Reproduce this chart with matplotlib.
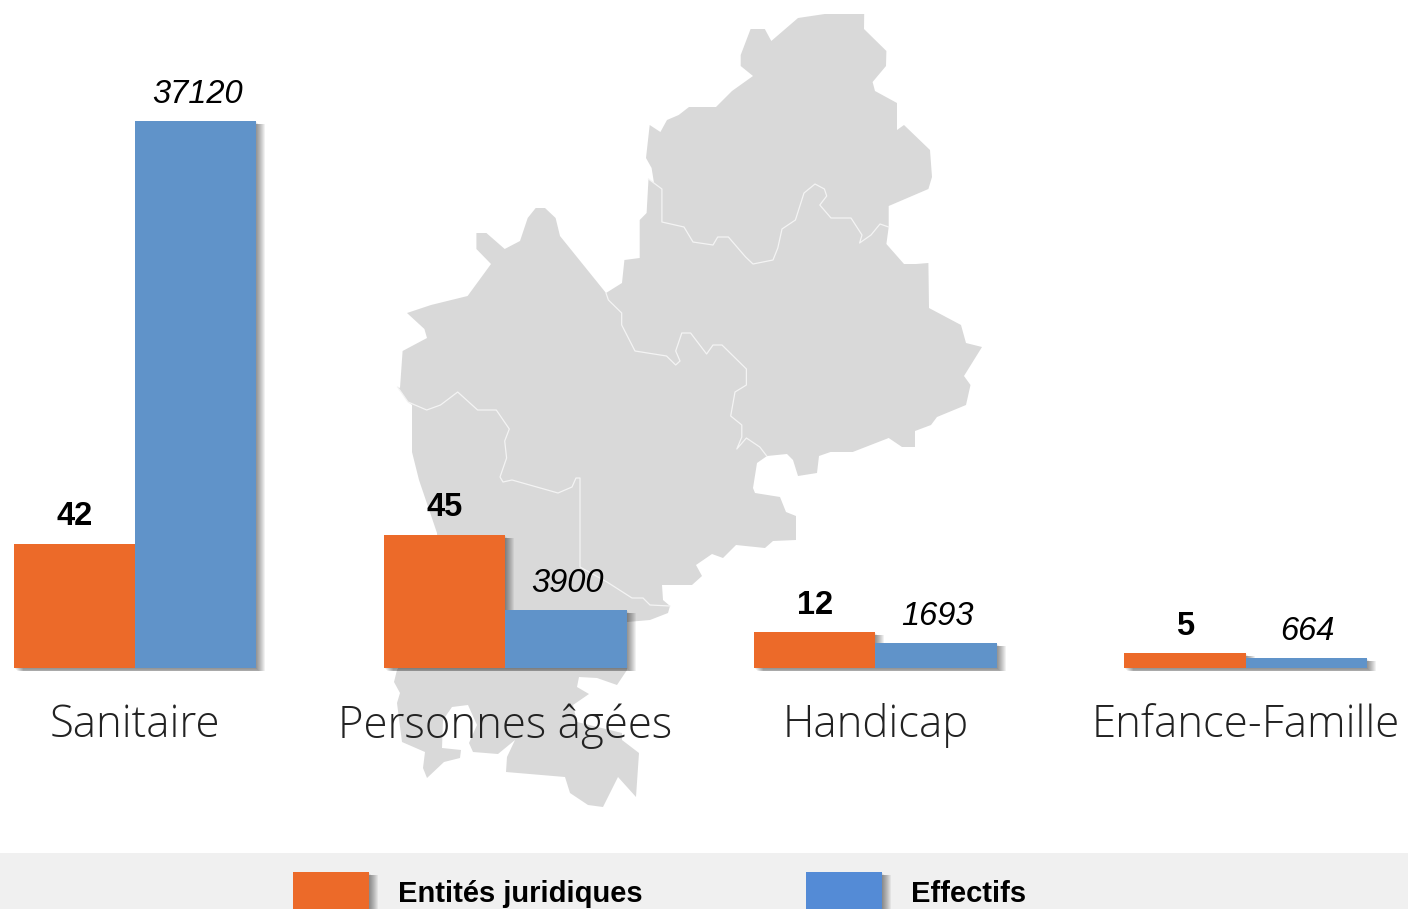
import matplotlib
matplotlib.use("Agg")
import matplotlib.pyplot as plt
import matplotlib.patheffects as pe
from matplotlib.patches import Polygon, Rectangle

# valeurs du graphique
categories = ["Sanitaire", "Personnes âgées", "Handicap", "Enfance-Famille"]
entites = [42, 45, 12, 5]
effectifs = [37120, 3900, 1693, 664]
series_names = ["Entités juridiques", "Effectifs"]

# fond de carte, en pixels de l'image
map_outline = [
    (750.6, 29), (764.8, 29), (771.3, 41), (798, 18), (824.8, 14), (864.2, 14), (864, 29), (886.4, 51),
    (886, 66), (872.6, 82), (875, 91), (897, 103), (897, 130), (904, 125), (930, 150), (932, 177),
    (928.4, 189), (888.7, 206), (888.7, 227), (886.4, 244), (904, 264), (916, 264), (928.4, 263), (929, 308),
    (961, 325), (966, 343), (982, 347), (964, 376), (970.5, 385), (966, 405), (937, 417), (931, 425),
    (915, 431), (915, 447), (902, 447), (888.7, 438), (852.7, 452), (830.5, 452), (819, 456), (817, 473),
    (798, 476), (793, 460), (787, 454), (767, 456), (757, 463), (753, 488), (755, 493), (780, 497),
    (786, 512), (796, 516), (796, 540), (773, 541), (765, 548), (736, 545), (723, 558), (712, 554),
    (696, 565), (702, 576), (692, 585), (662, 585), (663, 600), (670, 606), (668, 613), (650, 620),
    (627, 622), (627, 670), (617, 685), (597, 678), (579, 677), (577, 687), (589, 694), (573, 705),
    (577, 722), (622, 733), (622, 740), (639, 753), (636, 797), (618, 777), (603, 807), (588, 805),
    (570, 793), (565, 777), (506, 772), (507, 757), (515, 740), (498, 754), (473, 752), (469, 743),
    (477, 725), (468, 705), (452, 707), (443, 720), (442, 748), (461, 750), (460, 758), (444, 762),
    (427, 778), (423, 768), (425, 752), (402, 742), (397, 703), (400, 693), (394, 682), (397, 670),
    (440, 600), (437, 533), (419, 480), (412, 452), (412, 405), (408, 402), (397.6, 387), (400, 388),
    (402.6, 351), (427, 338), (424.4, 329), (407, 313), (431, 305), (467.6, 296), (491, 264), (476.4, 249),
    (476.4, 233), (486.4, 233), (504.7, 249), (520, 241), (527.7, 218), (535.7, 208), (545, 208), (555.6, 218),
    (560, 236), (606, 293), (622, 283), (624.4, 260), (639.7, 258), (639.7, 220), (646.6, 213), (648.5, 179),
    (654, 183), (651.6, 168), (646, 158), (649.7, 125), (660.4, 132), (667, 120), (678.7, 115), (689, 107),
    (716, 107), (732, 91), (753, 76), (740.7, 66), (740.7, 55),
]
border_north = [
    (648.5, 179), (661.9, 189), (661.9, 222), (684, 227), (693, 242), (713, 245), (717.7, 237), (728.4, 237),
    (745.6, 257), (753, 264), (773, 260), (777.8, 248), (782, 229), (795.4, 220), (804, 193), (815, 184),
    (824.4, 189), (826.7, 196), (819.8, 205), (831, 218), (851, 218), (862, 235), (859.6, 243), (871, 235),
    (880, 224), (888.7, 227),
]
border_middle = [
    (606, 293), (608.4, 300), (621.7, 313), (621.7, 325), (635, 351), (666.5, 356), (675.7, 365), (680, 361),
    (675.7, 351), (681.8, 333), (690.6, 333), (706.6, 354), (713, 345), (722, 345), (746.4, 369), (746.4, 385),
    (735, 392), (730.7, 416), (741.8, 425), (741.8, 437), (736.8, 449), (746.4, 438), (759.8, 447), (766.7, 456),
]
border_west = [
    (397.6, 387), (408, 402), (426.7, 410), (440.5, 405), (457.7, 392), (477.6, 410), (496.3, 410), (509.3, 429),
    (504.7, 441), (506.6, 458), (500, 477), (503, 482), (512, 480), (558, 493), (572, 487), (576, 478),
    (580, 478), (580, 567), (607, 582), (632, 598), (643, 598), (650, 605), (670, 606),
]

W, H = 1408, 909
ORANGE = "#EC6A29"
BLUE = "#6093C9"
BLUE_LEGEND = "#548BD6"
px = 72 / 100  # points par pixel


def soft_shadow():
    # pas de flou dans matplotlib : on empile des ombres légères
    effects = []
    for dx in range(9, 0, -1):
        dy = min(dx, 3)
        effects.append(pe.SimplePatchShadow(offset=(dx * px, -dy * px), shadow_rgbFace="black", alpha=0.055))
    effects.append(pe.Normal())
    return effects


fig = plt.figure(figsize=(W / 100, H / 100), dpi=100)

# couche de fond : carte et bandeau de légende
page = fig.add_axes([0, 0, 1, 1])
page.set_xlim(0, W)
page.set_ylim(H, 0)
page.axis("off")
page.add_patch(Polygon(map_outline, closed=True, facecolor="#D9D9D9", edgecolor="none"))
for border in [border_north, border_middle, border_west]:
    xs, ys = zip(*border)
    page.plot(xs, ys, color="#F4F4F4", lw=0.9)
page.add_patch(Rectangle((0, 853), W, H - 853, facecolor="#F0F0F0", edgecolor="none"))
legend_x = [293, 806]
legend_colors = [ORANGE, BLUE_LEGEND]
for x, name, color in zip(legend_x, series_names, legend_colors):
    sw = Rectangle((x, 872), 76, 40, facecolor=color, edgecolor="none")
    page.add_patch(sw)
    sw.set_path_effects(soft_shadow())
    page.text(x + 105, 893.5, name, fontsize=21, fontweight="bold", family="Liberation Sans",
              ha="left", va="center", color="black")

# barres : deux échelles
baseline = 668
spacing = 370.2
first = 135
bar_w = 121.3 / spacing
ax = fig.add_axes([0, (H - baseline) / H, 1, baseline / H])
ax.patch.set_alpha(0)
ax2 = ax.twinx()
ax2.patch.set_alpha(0)
ax.set_xlim(-first / spacing, (W - first) / spacing)
ax.set_ylim(0, 225.5)
ax2.set_ylim(0, 45300)

pos = range(len(categories))
bars1 = ax.bar([p - bar_w / 2 for p in pos], entites, bar_w, color=ORANGE, clip_on=False)
bars2 = ax2.bar([p + bar_w / 2 for p in pos], effectifs, bar_w, color=BLUE, clip_on=False)
for b in list(bars1) + list(bars2):
    b.set_path_effects(soft_shadow())

for b, v in zip(bars1, entites):
    ax.annotate(str(v), (b.get_x() + b.get_width() / 2, v), xytext=(0, 27 * px), textcoords="offset points",
                ha="center", va="center", fontsize=23.5, fontweight="bold", family="Liberation Sans", color="black")
for b, v in zip(bars2, effectifs):
    ax2.annotate(str(v), (b.get_x() + b.get_width() / 2, v), xytext=(1.5 * px, 26.5 * px), textcoords="offset points",
                 ha="center", va="center", fontsize=23.5, style="italic", family="Liberation Sans", color="black")

ax.set_xticks(list(pos))
ax.set_xticklabels(categories, fontsize=31.5, fontweight=300, family="Open Sans", color="#222222")
ax.tick_params(axis="x", length=0, pad=25.5)
ax.set_yticks([])
ax2.set_yticks([])
for a in (ax, ax2):
    for s in a.spines.values():
        s.set_visible(False)

fig.savefig("out.png", dpi=100)
